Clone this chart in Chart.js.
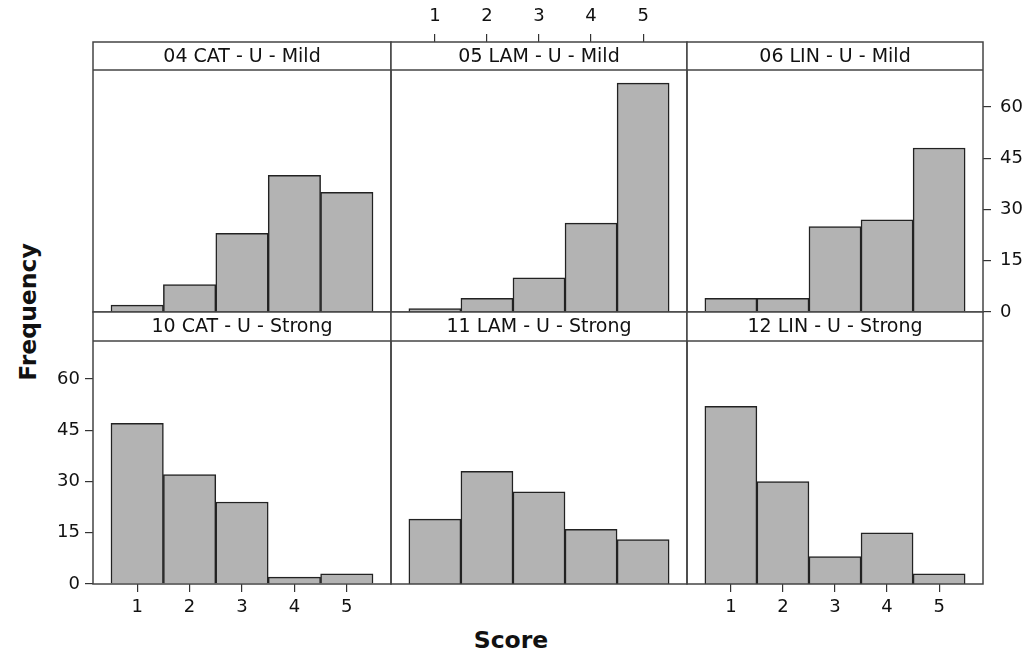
<!DOCTYPE html>
<html>
<head>
<meta charset="utf-8">
<script src="https://cdn.jsdelivr.net/npm/chart.js@4/dist/chart.umd.min.js"></script>
<style>
body { margin: 0; background: #fff; }
#wrap { position: relative; width: 1030px; height: 658px; overflow: hidden; background: #fff; }
#wrap canvas { position: absolute; left: 0; top: 0; }
.lab { position: absolute; font-family: 'DejaVu Sans'; font-weight: bold; font-size: 23.5px; color: #111; white-space: nowrap; }
#ylab { left: 28px; top: 312px; transform: translate(-50%, -50%) rotate(-90deg); }
#xlab { left: 511px; top: 640px; transform: translate(-50%, -50%); }
</style>
</head>
<body>
<div id="wrap">
  <div class="lab" id="ylab">Frequency</div>
  <div class="lab" id="xlab">Score</div>
</div>
<script>
// data
var scores = [1, 2, 3, 4, 5];
var freqTicks = [0, 15, 30, 45, 60];

var catMild   = [2, 8, 23, 40, 35];
var lamMild   = [1, 4, 10, 26, 67];
var linMild   = [4, 4, 25, 27, 48];
var catStrong = [47, 32, 24, 2, 3];
var lamStrong = [19, 33, 27, 16, 13];
var linStrong = [52, 30, 8, 15, 3];

var panelTitles = ['04 CAT - U - Mild', '05 LAM - U - Mild', '06 LIN - U - Mild',
                   '10 CAT - U - Strong', '11 LAM - U - Strong', '12 LIN - U - Strong'];
var panelData = [catMild, lamMild, linMild, catStrong, lamStrong, linStrong];

// panel layout (pixels)
var colEdges = [93, 391, 687, 983];
var stripTop = [42, 312];
var plotTop = [70, 341];
var plotBottom = [312, 584];
var W = 1030, H = 658;
var pxPerUnit = 205 / 60;
var xMin = 0.157, xMax = 5.843;
var AX_H = 40, AY_W = 50;

// which axes each panel shows: [x position, y position]
var panelAxes = [
  [null, null], ['top', null], [null, 'right'],
  ['bottom', 'left'], [null, null], ['bottom', null]
];

var tickFont = { family: 'DejaVu Sans', size: 18 };

function xScale(pos) {
  return {
    type: 'linear', min: xMin, max: xMax, offset: false,
    position: pos || 'bottom', display: !!pos,
    afterFit: function (s) { s.height = pos ? AX_H : 0; },
    afterBuildTicks: function (s) { s.ticks = scores.map(function (v) { return { value: v }; }); },
    grid: { offset: false, drawOnChartArea: false, drawTicks: true, tickLength: 8, color: '#333', lineWidth: 1.2 },
    border: { display: false },
    ticks: { font: tickFont, color: '#111', padding: pos === 'top' ? 7 : 5, maxRotation: 0, autoSkip: false }
  };
}

function yScale(pos, yMax) {
  return {
    type: 'linear', min: 0, max: yMax,
    position: pos || 'left', display: !!pos,
    afterFit: function (s) { s.width = pos ? AY_W : 0; },
    afterBuildTicks: function (s) { s.ticks = freqTicks.map(function (v) { return { value: v }; }); },
    grid: { drawOnChartArea: false, drawTicks: true, tickLength: 8, color: '#333', lineWidth: 1.2 },
    border: { display: false },
    ticks: { font: tickFont, color: '#111', padding: pos === 'right' ? 9 : 5, autoSkip: false }
  };
}

var framePlugin = {
  id: 'panelFrame',
  afterDraw: function (chart, args, opts) {
    var ctx = chart.ctx, a = chart.chartArea;
    ctx.save();
    ctx.fillStyle = '#fff';
    ctx.fillRect(a.left, a.top, a.right - a.left, opts.plotTop - a.top);
    ctx.strokeStyle = '#444';
    ctx.lineWidth = 1.5;
    ctx.strokeRect(a.left, a.top, a.right - a.left, a.bottom - a.top);
    ctx.beginPath();
    ctx.moveTo(a.left, opts.plotTop);
    ctx.lineTo(a.right, opts.plotTop);
    ctx.stroke();
    ctx.fillStyle = '#111';
    ctx.font = '19px "DejaVu Sans"';
    ctx.textAlign = 'center';
    ctx.textBaseline = 'middle';
    ctx.fillText(opts.title, (a.left + a.right) / 2, (opts.plotTop + a.top) / 2 + 1);
    ctx.restore();
  }
};

var wrap = document.getElementById('wrap');
for (var i = 0; i < 6; i++) {
  var row = Math.floor(i / 3), col = i % 3;
  var xPos = panelAxes[i][0], yPos = panelAxes[i][1];
  var cv = document.createElement('canvas');
  cv.width = W; cv.height = H;
  wrap.appendChild(cv);
  var pts = [];
  for (var j = 0; j < scores.length; j++) pts.push({ x: scores[j], y: panelData[i][j] });
  var yMax = (plotBottom[row] - stripTop[row]) / pxPerUnit;
  new Chart(cv, {
    type: 'bar',
    data: {
      datasets: [{
        data: pts,
        backgroundColor: '#b3b3b3',
        borderColor: '#222',
        borderWidth: 1.5,
        barPercentage: 1,
        categoryPercentage: 1
      }]
    },
    options: {
      responsive: false,
      animation: false,
      events: [],
      layout: {
        padding: {
          left: colEdges[col] - (yPos === 'left' ? AY_W : 0),
          right: W - colEdges[col + 1] - (yPos === 'right' ? AY_W : 0),
          top: stripTop[row] - (xPos === 'top' ? AX_H : 0),
          bottom: H - plotBottom[row] - (xPos === 'bottom' ? AX_H : 0)
        }
      },
      scales: { x: xScale(xPos), y: yScale(yPos, yMax) },
      plugins: {
        legend: { display: false },
        tooltip: { enabled: false },
        panelFrame: { title: panelTitles[i], plotTop: plotTop[row] }
      }
    },
    plugins: [framePlugin]
  });
}
</script>
</body>
</html>
